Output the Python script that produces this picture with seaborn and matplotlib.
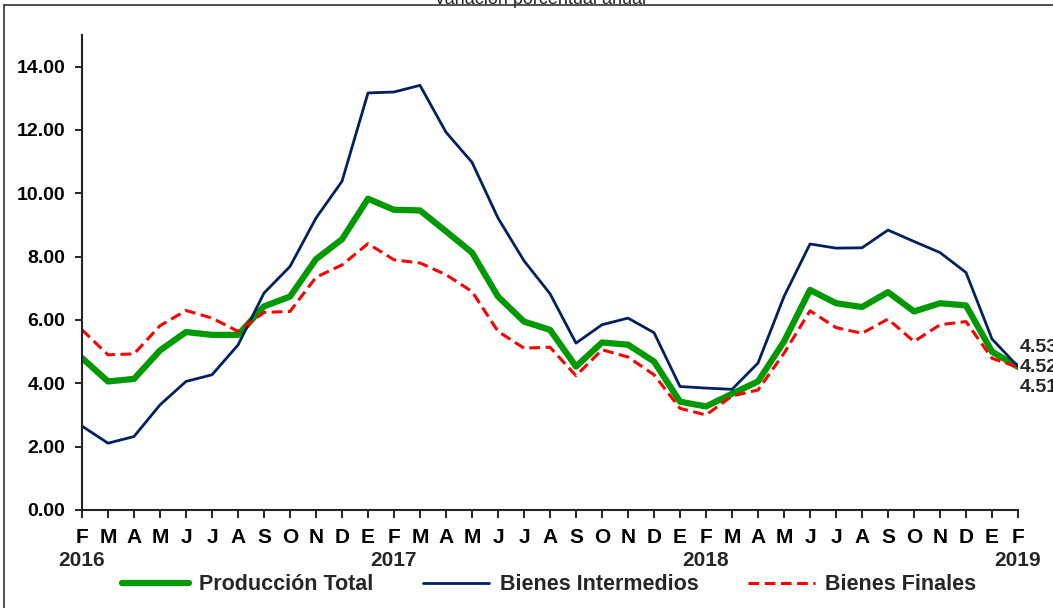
import numpy as np
import pandas as pd
import matplotlib
matplotlib.use('Agg')
import matplotlib.pyplot as plt
from matplotlib.lines import Line2D
import seaborn as sns

meses = ['F', 'M', 'A', 'M', 'J', 'J', 'A', 'S', 'O', 'N', 'D',
         'E', 'F', 'M', 'A', 'M', 'J', 'J', 'A', 'S', 'O', 'N', 'D',
         'E', 'F', 'M', 'A', 'M', 'J', 'J', 'A', 'S', 'O', 'N', 'D',
         'E', 'F']
anios = {0: '2016', 12: '2017', 24: '2018', 36: '2019'}

produccion_total = [4.80, 4.06, 4.14, 5.04, 5.62, 5.53, 5.53, 6.43, 6.74, 7.92, 8.55,
                    9.83, 9.48, 9.46, 8.80, 8.13, 6.74, 5.95, 5.69, 4.53, 5.29, 5.22, 4.69,
                    3.42, 3.27, 3.67, 4.06, 5.32, 6.95, 6.53, 6.41, 6.88, 6.27, 6.53, 6.46,
                    5.00, 4.52]
bienes_intermedios = [2.65, 2.11, 2.32, 3.32, 4.06, 4.27, 5.21, 6.85, 7.69, 9.22, 10.38,
                      13.17, 13.20, 13.41, 11.93, 10.98, 9.22, 7.87, 6.83, 5.27, 5.85, 6.06, 5.60,
                      3.90, 3.85, 3.81, 4.64, 6.74, 8.40, 8.27, 8.28, 8.84, 8.48, 8.13, 7.50,
                      5.40, 4.53]
bienes_finales = [5.69, 4.90, 4.93, 5.82, 6.30, 6.06, 5.64, 6.24, 6.27, 7.35, 7.74,
                  8.41, 7.90, 7.80, 7.43, 6.90, 5.64, 5.11, 5.14, 4.24, 5.06, 4.83, 4.27,
                  3.21, 3.00, 3.60, 3.79, 4.95, 6.29, 5.76, 5.58, 6.03, 5.32, 5.85, 5.95,
                  4.79, 4.51]
etiquetas_finales = ['4.53', '4.52', '4.51']

df = pd.DataFrame({'idx': np.arange(len(meses)),
                   'Producción Total': produccion_total,
                   'Bienes Intermedios': bienes_intermedios,
                   'Bienes Finales': bienes_finales})

sns.set_style('white')
plt.rcParams['font.family'] = ['Liberation Sans', 'DejaVu Sans']
plt.rcParams['font.weight'] = 'bold'

fig = plt.figure(figsize=(10.53, 6.08), dpi=100)
ax = fig.add_axes([82 / 1053, 1 - 510 / 608, (1018 - 82) / 1053, (510 - 35) / 608])

sns.lineplot(data=df, x='idx', y='Producción Total', ax=ax, color='#009900', linewidth=4.5)
sns.lineplot(data=df, x='idx', y='Bienes Intermedios', ax=ax, color='#002060', linewidth=2.0)
sns.lineplot(data=df, x='idx', y='Bienes Finales', ax=ax, color='#ff0000', linewidth=2.2)
ax.lines[2].set_dashes((3.5, 1.8))

ax.set_xlim(0, 36)
ax.set_ylim(0, 15)
ax.set_xlabel('')
ax.set_ylabel('')
ax.set_xticks(df['idx'])
ax.set_xticklabels(meses, fontsize=15, fontweight='bold')
ax.set_yticks(np.arange(0, 15, 2))
ax.set_yticklabels([f'{v:.2f}' for v in np.arange(0, 15, 2)], fontsize=14, fontweight='bold')
ax.tick_params(axis='x', direction='out', length=6, width=1.2, pad=7, bottom=True, colors='black')
ax.tick_params(axis='y', direction='out', length=5, width=1.2, pad=7, left=True, colors='black')
for s in ['top', 'right']:
    ax.spines[s].set_visible(False)
for s in ['left', 'bottom']:
    ax.spines[s].set_color('#222222')
    ax.spines[s].set_linewidth(1.5)

for i, a in anios.items():
    ax.text(i, -0.107, a, transform=ax.get_xaxis_transform(), ha='center', va='center',
            fontsize=15, fontweight='bold')

for k, t in enumerate(etiquetas_finales):
    fig.text(1020 / 1053, 1 - (347 + 20.5 * k) / 608, t, ha='left', va='center',
             fontsize=14, fontweight='bold')

fig.text(540 / 1053, 1 - 4 / 608, 'Variación porcentual anual', ha='center', va='baseline',
         fontsize=13, fontweight='normal')

# borde del gráfico
fig.add_artist(Line2D([4 / 1053, 4 / 1053], [0, 1 - 5 / 608], transform=fig.transFigure,
                      color='#333333', linewidth=1.2))
fig.add_artist(Line2D([4 / 1053, 1], [1 - 5 / 608, 1 - 5 / 608], transform=fig.transFigure,
                      color='#333333', linewidth=1.2))

fig.legend(handles=ax.lines[:3], labels=['Producción Total', 'Bienes Intermedios', 'Bienes Finales'],
           loc='center', bbox_to_anchor=(549 / 1053, 1 - 585 / 608), ncol=3, frameon=False,
           prop={'size': 15.5, 'weight': 'bold'}, handlelength=3.1, handletextpad=0.47,
           columnspacing=2.3)

fig.savefig('out.png', dpi=100)
